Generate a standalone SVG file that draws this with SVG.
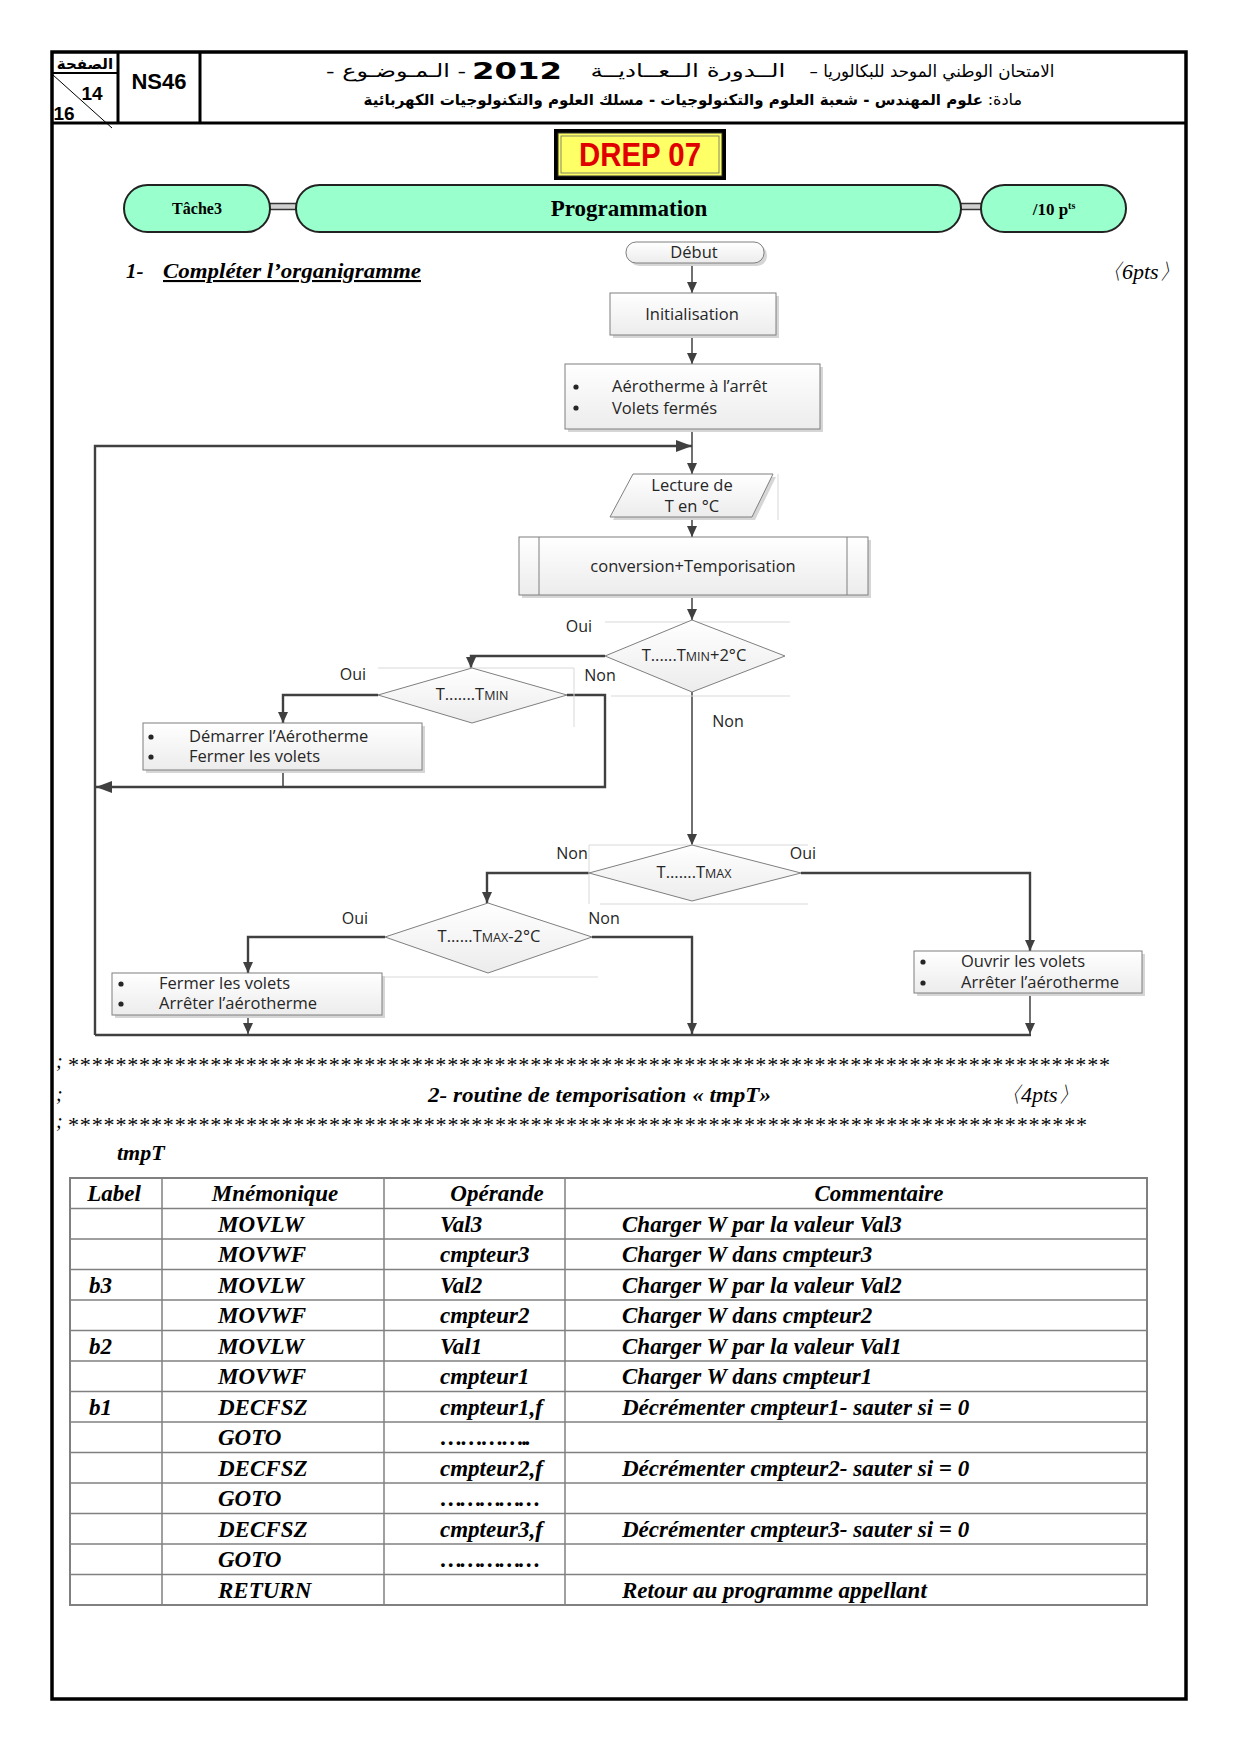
<svg xmlns="http://www.w3.org/2000/svg" width="1240" height="1754" viewBox="0 0 1240 1754">
<defs>
<linearGradient id="g" x1="0" y1="0" x2="0" y2="1"><stop offset="0" stop-color="#ffffff"/><stop offset="1" stop-color="#ececec"/></linearGradient>
<marker id="a" markerUnits="userSpaceOnUse" markerWidth="11" markerHeight="10" refX="11" refY="5" orient="auto"><path d="M0,0 L11,5 L0,10 z" fill="#404040"/></marker>
<marker id="A" markerUnits="userSpaceOnUse" markerWidth="16" markerHeight="12" refX="16" refY="6" orient="auto"><path d="M0,0 L16,6 L0,12 z" fill="#404040"/></marker>
<style>
.box{fill:url(#g);stroke:#7f7f7f;stroke-width:1}
.sh{fill:#d6d6d6}
.ft{font-family:'Open Sans',sans-serif;font-size:16.5px;fill:#262626}
.lb{font-family:'Open Sans',sans-serif;font-size:16px;fill:#262626}
.dt{font-family:'Open Sans',sans-serif;font-size:16.5px;fill:#262626}
.bu{fill:#262626}
.ln{stroke:#404040;stroke-width:2.4;fill:none}
.tn{stroke:#404040;stroke-width:1.5;fill:none}
.gd{stroke:#d9d9d9;stroke-width:1;fill:none}
.tb{font-family:'Liberation Serif',serif;font-weight:bold;font-style:italic;font-size:23px;fill:#000}
.ar{font-family:'DejaVu Sans',sans-serif;fill:#000}
.pill{fill:#99ffcc;stroke:#222;stroke-width:2}
.tl{stroke:#808080;stroke-width:1.5}
</style>
</defs>
<rect width="1240" height="1754" fill="#fff"/>

<g id="header">
<rect x="52" y="52" width="1134" height="1647" fill="none" stroke="#000" stroke-width="3.5"/>
<line x1="52" y1="123" x2="1186" y2="123" stroke="#000" stroke-width="3"/>
<line x1="200" y1="52" x2="200" y2="123" stroke="#000" stroke-width="3"/>
<line x1="118" y1="52" x2="118" y2="124" stroke="#000" stroke-width="3"/>
<line x1="52" y1="73" x2="118" y2="73" stroke="#000" stroke-width="2"/>
<line x1="53" y1="75" x2="112" y2="128" stroke="#000" stroke-width="1"/>
<text class="ar" x="85" y="69" text-anchor="middle" font-size="15" font-weight="bold" direction="rtl">الصفحة</text>
<text x="92" y="100" text-anchor="middle" font-family="'Liberation Sans',sans-serif" font-size="19" font-weight="bold">14</text>
<text x="64" y="120" text-anchor="middle" font-family="'Liberation Sans',sans-serif" font-size="19" font-weight="bold">16</text>
<text x="159" y="89" text-anchor="middle" font-family="'Liberation Sans',sans-serif" font-size="22" font-weight="bold">NS46</text>
<text class="ar" x="932" y="77" text-anchor="middle" font-size="17" direction="rtl" textLength="245" lengthAdjust="spacingAndGlyphs">الامتحان الوطني الموحد للبكالوريا –</text>
<text class="ar" x="688" y="77" text-anchor="middle" font-size="18" direction="rtl" textLength="195" lengthAdjust="spacingAndGlyphs">الــدورة الــعــاديــة</text>
<text x="517" y="79" text-anchor="middle" font-family="'DejaVu Sans',sans-serif" font-size="23" font-weight="bold" textLength="90" lengthAdjust="spacingAndGlyphs">2012</text>
<text class="ar" x="396" y="77" text-anchor="middle" font-size="18" direction="rtl" textLength="140" lengthAdjust="spacingAndGlyphs">- الـمـوضـوع -</text>
<text class="ar" x="1022" y="105" text-anchor="start" font-size="16" direction="rtl">مادة:</text>
<text class="ar" x="983" y="105" text-anchor="start" font-size="15" font-weight="bold" direction="rtl">علوم المهندس - شعبة العلوم والتكنولوجيات - مسلك العلوم والتكنولوجيات الكهربائية</text>
</g>

<g id="drep">
<rect x="554" y="129" width="172" height="51" fill="#000"/>
<rect x="558" y="133" width="164" height="43" fill="#ffff66" stroke="#333" stroke-width="1"/>
<rect x="561" y="136" width="158" height="37" fill="none" stroke="#666" stroke-width="0.8"/>
<text x="640" y="166" text-anchor="middle" font-family="'Liberation Sans',sans-serif" font-size="33" font-weight="bold" fill="#e00000" textLength="122" lengthAdjust="spacingAndGlyphs">DREP 07</text>
</g>

<g id="tache">
<rect x="270" y="203.5" width="27" height="6" fill="#d0d0d0"/>
<line x1="270" y1="203.5" x2="297" y2="203.5" stroke="#333" stroke-width="1.5"/>
<line x1="270" y1="209.5" x2="297" y2="209.5" stroke="#333" stroke-width="1.5"/>
<rect x="961" y="203.5" width="21" height="6" fill="#d0d0d0"/>
<line x1="961" y1="203.5" x2="982" y2="203.5" stroke="#333" stroke-width="1.5"/>
<line x1="961" y1="209.5" x2="982" y2="209.5" stroke="#333" stroke-width="1.5"/>
<rect class="pill" x="124" y="185" width="146" height="47" rx="23.5"/>
<rect class="pill" x="296" y="185" width="665" height="47" rx="23.5"/>
<rect class="pill" x="981" y="185" width="145" height="47" rx="23.5"/>
<text x="197" y="214" text-anchor="middle" font-family="'Liberation Serif',serif" font-size="16" font-weight="bold">Tâche3</text>
<text x="629" y="216" text-anchor="middle" font-family="'Liberation Serif',serif" font-size="23" font-weight="bold">Programmation</text>
<text x="1054" y="215" text-anchor="middle" font-family="'Liberation Serif',serif" font-size="17" font-weight="bold">/10 p<tspan font-size="10" dy="-6">ts</tspan></text>
</g>

<g id="q1title">
<text x="126" y="278" font-family="'Liberation Serif',serif" font-size="21" font-weight="bold" font-style="italic">1-</text>
<text x="163" y="278" font-family="'Liberation Serif',serif" font-size="21" font-weight="bold" font-style="italic" text-decoration="underline" textLength="258" lengthAdjust="spacingAndGlyphs">Compléter l’organigramme</text>
<text x="1100" y="279" font-family="'Liberation Serif',serif" font-size="22" font-style="italic">〈6pts〉</text>
</g>

<g id="connectors">
<line class="tn" x1="692" y1="263" x2="692" y2="293" marker-end="url(#a)"/>
<line class="tn" x1="692" y1="335" x2="692" y2="364" marker-end="url(#a)"/>
<line class="tn" x1="692" y1="429" x2="692" y2="474" marker-end="url(#a)"/>
<polyline class="ln" points="95,1035 95,446 692,446" marker-end="url(#A)"/>
<line class="tn" x1="692" y1="517" x2="692" y2="537" marker-end="url(#a)"/>
<line class="tn" x1="692" y1="595" x2="692" y2="620" marker-end="url(#a)"/>
<polyline class="ln" points="605,656 471,656 471,668" marker-end="url(#a)"/>
<polyline class="ln" points="378,695 283,695 283,723" marker-end="url(#a)"/>
<line class="tn" x1="283" y1="770" x2="283" y2="787"/>
<polyline class="ln" points="567,695 605,695 605,787 96,787" marker-end="url(#A)"/>
<line class="tn" x1="692" y1="692" x2="692" y2="845" marker-end="url(#a)"/>
<polyline class="ln" points="589,873 487,873 487,903" marker-end="url(#a)"/>
<polyline class="ln" points="801,873 1030,873 1030,951" marker-end="url(#a)"/>
<polyline class="ln" points="385,937 248,937 248,973" marker-end="url(#a)"/>
<polyline class="ln" points="592,937 692,937 692,1034" marker-end="url(#a)"/>
<line class="tn" x1="248" y1="1015" x2="248" y2="1034" marker-end="url(#a)"/>
<line class="tn" x1="1030" y1="993" x2="1030" y2="1034" marker-end="url(#a)"/>
<line class="ln" x1="95" y1="1035" x2="1031" y2="1035"/>
</g>

<g id="debut">
<rect class="sh" x="629" y="245" width="138" height="21" rx="10"/>
<rect class="box" x="626" y="242" width="138" height="21" rx="10"/>
<text class="ft" x="694" y="258" text-anchor="middle" font-size="15.5">Début</text>
</g>
<g id="init">
<rect class="sh" x="613" y="296" width="166" height="42"/>
<rect class="box" x="610" y="293" width="166" height="42"/>
<text class="ft" x="692" y="320" text-anchor="middle">Initialisation</text>
</g>
<g id="etat0">
<rect class="sh" x="568" y="367" width="255" height="65"/>
<rect class="box" x="565" y="364" width="255" height="65"/>
<circle class="bu" cx="576" cy="387" r="2.6"/><text class="ft" x="612" y="392">Aérotherme à l’arrêt</text>
<circle class="bu" cx="576" cy="408" r="2.6"/><text class="ft" x="612" y="414">Volets fermés</text>
</g>
<g id="lecture">
<line class="gd" x1="778" y1="474" x2="778" y2="520"/>
<polygon class="sh" points="636,477 776,477 755,520 613,520"/>
<polygon class="box" points="633,474 773,474 752,517 610,517"/>
<text class="ft" x="692" y="491" text-anchor="middle">Lecture de</text>
<text class="ft" x="692" y="512" text-anchor="middle">T en °C</text>
</g>
<g id="conversion">
<rect class="sh" x="522" y="540" width="349" height="58"/>
<rect class="box" x="519" y="537" width="349" height="58"/>
<line x1="539" y1="537" x2="539" y2="595" stroke="#7f7f7f"/>
<line x1="847" y1="537" x2="847" y2="595" stroke="#7f7f7f"/>
<text class="ft" x="693" y="572" text-anchor="middle">conversion+Temporisation</text>
</g>
<g id="d1">
<line class="gd" x1="605" y1="622" x2="790" y2="622"/>
<line class="gd" x1="611" y1="696" x2="790" y2="696"/>
<polygon class="box" points="692,620 785,656 692,692 605,656"/>
<text class="dt" x="694" y="661" text-anchor="middle">T......T<tspan font-size="12.5">MIN</tspan>+2°C</text>
<text class="lb" x="579" y="632" text-anchor="middle">Oui</text>
<text class="lb" x="600" y="681" text-anchor="middle">Non</text>
<text class="lb" x="728" y="727" text-anchor="middle">Non</text>
</g>
<g id="d2">
<line class="gd" x1="378" y1="668" x2="574" y2="668"/>
<line class="gd" x1="574" y1="668" x2="574" y2="727"/>
<polygon class="box" points="472,668 567,695 472,723 378,695"/>
<text class="dt" x="472" y="700" text-anchor="middle">T.......T<tspan font-size="12.5">MIN</tspan></text>
<text class="lb" x="353" y="680" text-anchor="middle">Oui</text>
</g>
<g id="demarrer">
<rect class="sh" x="146" y="726" width="279" height="47"/>
<rect class="box" x="143" y="723" width="279" height="47"/>
<circle class="bu" cx="151" cy="737" r="2.6"/><text class="ft" x="189" y="742">Démarrer l’Aérotherme</text>
<circle class="bu" cx="151" cy="757" r="2.6"/><text class="ft" x="189" y="762">Fermer les volets</text>
</g>
<g id="d3">
<line class="gd" x1="589" y1="845" x2="808" y2="845"/>
<line class="gd" x1="600" y1="904" x2="808" y2="904"/>
<line class="gd" x1="589" y1="845" x2="589" y2="904"/>
<polygon class="box" points="692,845 801,873 692,901 589,873"/>
<text class="dt" x="694" y="878" text-anchor="middle">T.......T<tspan font-size="12.5">MAX</tspan></text>
<text class="lb" x="572" y="859" text-anchor="middle">Non</text>
<text class="lb" x="803" y="859" text-anchor="middle">Oui</text>
</g>
<g id="d4">
<line class="gd" x1="383" y1="977" x2="598" y2="977"/>
<polygon class="box" points="488,903 592,937 488,973 385,937"/>
<text class="dt" x="489" y="942" text-anchor="middle">T......T<tspan font-size="12.5">MAX</tspan>-2°C</text>
<text class="lb" x="355" y="924" text-anchor="middle">Oui</text>
<text class="lb" x="604" y="924" text-anchor="middle">Non</text>
</g>
<g id="fermer">
<rect class="sh" x="115" y="976" width="270" height="42"/>
<rect class="box" x="112" y="973" width="270" height="42"/>
<circle class="bu" cx="121" cy="984" r="2.6"/><text class="ft" x="159" y="989">Fermer les volets</text>
<circle class="bu" cx="121" cy="1004" r="2.6"/><text class="ft" x="159" y="1009">Arrêter l’aérotherme</text>
</g>
<g id="ouvrir">
<rect class="sh" x="917" y="954" width="228" height="42"/>
<rect class="box" x="914" y="951" width="228" height="42"/>
<circle class="bu" cx="923" cy="962" r="2.6"/><text class="ft" x="961" y="967">Ouvrir les volets</text>
<circle class="bu" cx="923" cy="983" r="2.6"/><text class="ft" x="961" y="988">Arrêter l’aérotherme</text>
</g>

<g id="q2title" font-family="'Liberation Serif',serif" font-style="italic">
<text x="56" y="1068" font-size="20">;</text>
<text x="67" y="1072" font-size="22" textLength="1042" lengthAdjust="spacing">****************************************************************************************</text>
<text x="56" y="1101" font-size="20">;</text>
<text x="428" y="1102" font-size="21" font-weight="bold" textLength="343" lengthAdjust="spacingAndGlyphs">2- routine de temporisation  « tmpT»</text>
<text x="999" y="1102" font-size="22">〈4pts〉</text>
<text x="56" y="1128" font-size="20">;</text>
<text x="67" y="1132" font-size="22" textLength="1019" lengthAdjust="spacing">**************************************************************************************</text>
<text x="117" y="1160" font-size="22" font-weight="bold">tmpT</text>
</g>

<g id="table">
<rect x="70" y="1178" width="1077" height="427" fill="none" stroke="#808080" stroke-width="2"/>
<g class="tl">
<line x1="162" y1="1178" x2="162" y2="1605"/><line x1="384" y1="1178" x2="384" y2="1605"/><line x1="565" y1="1178" x2="565" y2="1605"/>
<line x1="70" y1="1208.5" x2="1147" y2="1208.5"/><line x1="70" y1="1239" x2="1147" y2="1239"/><line x1="70" y1="1269.5" x2="1147" y2="1269.5"/>
<line x1="70" y1="1300" x2="1147" y2="1300"/><line x1="70" y1="1330.5" x2="1147" y2="1330.5"/><line x1="70" y1="1361" x2="1147" y2="1361"/>
<line x1="70" y1="1391.5" x2="1147" y2="1391.5"/><line x1="70" y1="1422" x2="1147" y2="1422"/><line x1="70" y1="1452.5" x2="1147" y2="1452.5"/>
<line x1="70" y1="1483" x2="1147" y2="1483"/><line x1="70" y1="1513.5" x2="1147" y2="1513.5"/><line x1="70" y1="1544" x2="1147" y2="1544"/>
<line x1="70" y1="1574.5" x2="1147" y2="1574.5"/>
</g>
<text class="tb" x="114" y="1201" text-anchor="middle">Label</text>
<text class="tb" x="275" y="1201" text-anchor="middle">Mnémonique</text>
<text class="tb" x="497" y="1201" text-anchor="middle">Opérande</text>
<text class="tb" x="879" y="1201" text-anchor="middle">Commentaire</text>
<text class="tb" x="218" y="1232">MOVLW</text><text class="tb" x="440" y="1232">Val3</text><text class="tb" x="622" y="1232">Charger W par la valeur Val3</text>
<text class="tb" x="218" y="1262">MOVWF</text><text class="tb" x="440" y="1262">cmpteur3</text><text class="tb" x="622" y="1262">Charger W dans cmpteur3</text>
<text class="tb" x="89" y="1293">b3</text><text class="tb" x="218" y="1293">MOVLW</text><text class="tb" x="440" y="1293">Val2</text><text class="tb" x="622" y="1293">Charger W par la valeur Val2</text>
<text class="tb" x="218" y="1323">MOVWF</text><text class="tb" x="440" y="1323">cmpteur2</text><text class="tb" x="622" y="1323">Charger W dans cmpteur2</text>
<text class="tb" x="89" y="1354">b2</text><text class="tb" x="218" y="1354">MOVLW</text><text class="tb" x="440" y="1354">Val1</text><text class="tb" x="622" y="1354">Charger W par la valeur Val1</text>
<text class="tb" x="218" y="1384">MOVWF</text><text class="tb" x="440" y="1384">cmpteur1</text><text class="tb" x="622" y="1384">Charger W dans cmpteur1</text>
<text class="tb" x="89" y="1415">b1</text><text class="tb" x="218" y="1415">DECFSZ</text><text class="tb" x="440" y="1415">cmpteur1,f</text><text class="tb" x="622" y="1415">Décrémenter cmpteur1- sauter si = 0</text>
<text class="tb" x="218" y="1445">GOTO</text><text class="tb" x="440" y="1445" textLength="91" lengthAdjust="spacing">…………..</text>
<text class="tb" x="218" y="1476">DECFSZ</text><text class="tb" x="440" y="1476">cmpteur2,f</text><text class="tb" x="622" y="1476">Décrémenter cmpteur2- sauter si = 0</text>
<text class="tb" x="218" y="1506">GOTO</text><text class="tb" x="440" y="1506" textLength="101" lengthAdjust="spacing">……………</text>
<text class="tb" x="218" y="1537">DECFSZ</text><text class="tb" x="440" y="1537">cmpteur3,f</text><text class="tb" x="622" y="1537">Décrémenter cmpteur3- sauter si = 0</text>
<text class="tb" x="218" y="1567">GOTO</text><text class="tb" x="440" y="1567" textLength="101" lengthAdjust="spacing">……………</text>
<text class="tb" x="218" y="1598">RETURN</text><text class="tb" x="622" y="1598">Retour au programme appellant</text>
</g>
</svg>
